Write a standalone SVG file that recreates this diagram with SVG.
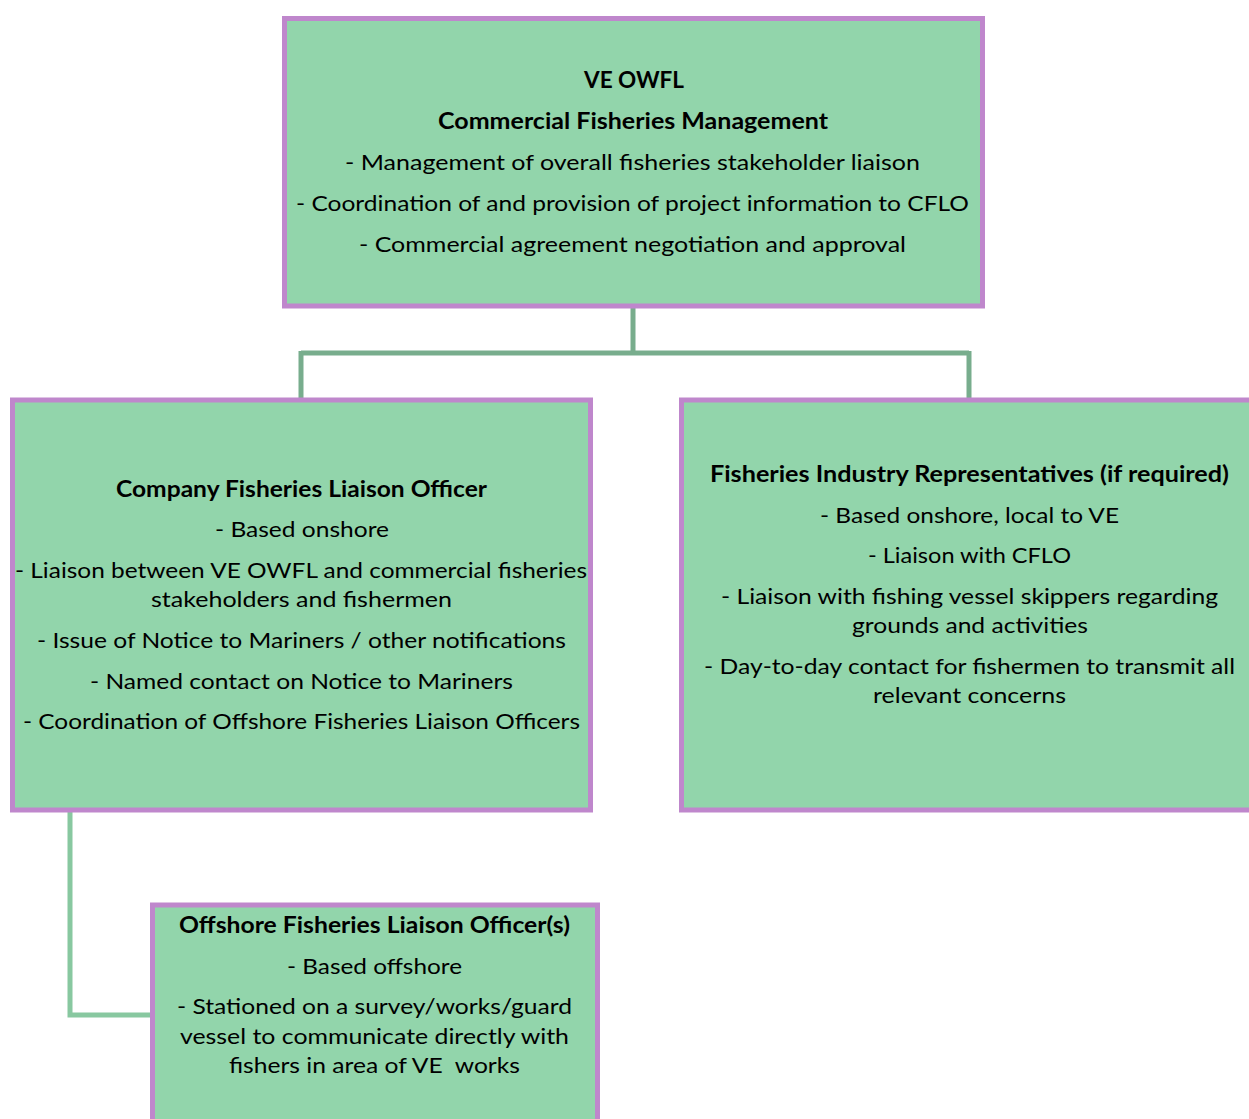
<svg xmlns="http://www.w3.org/2000/svg" width="1249" height="1119" viewBox="0 0 1249 1119">
<style>
.box{fill:#92D5AB;stroke:#BF87CC;stroke-width:5}
.t{font-family:Lato,"Open Sans","Liberation Sans",sans-serif;font-size:22px;fill:#000;text-anchor:middle}
.b{font-weight:bold}
.c1{fill:none;stroke:#78AD8D;stroke-width:5}
.c2{fill:none;stroke:#88C8A0;stroke-width:5}
</style>
<rect width="1249" height="1119" fill="#fff"/>
<g id="connectors">
<path class="c1" d="M633,307 V353 M301,353 H969 M301,351 V400 M969,351 V400"/>
<path class="c2" d="M70,812 V1015 H152"/>
</g>
<g id="node-mgmt">
<rect class="box" x="284.5" y="18.5" width="698" height="287.5"/>
<text class="t b" x="634" y="88" textLength="100" lengthAdjust="spacingAndGlyphs">VE OWFL</text>
<text class="t b" x="633" y="129" textLength="390" lengthAdjust="spacingAndGlyphs">Commercial Fisheries Management</text>
<text class="t" x="632.5" y="170" textLength="575" lengthAdjust="spacingAndGlyphs">- Management of overall fisheries stakeholder liaison</text>
<text class="t" x="632.5" y="211" textLength="673" lengthAdjust="spacingAndGlyphs">- Coordination of and provision of project information to CFLO</text>
<text class="t" x="632.5" y="252" textLength="547" lengthAdjust="spacingAndGlyphs">- Commercial agreement negotiation and approval</text>
</g>
<g id="node-cflo">
<rect class="box" x="12.5" y="400" width="578" height="410"/>
<text class="t b" x="301.5" y="497" textLength="371" lengthAdjust="spacingAndGlyphs">Company Fisheries Liaison Officer</text>
<text class="t" x="302" y="537" textLength="174" lengthAdjust="spacingAndGlyphs">- Based onshore</text>
<text class="t" x="301" y="578" textLength="572" lengthAdjust="spacingAndGlyphs">- Liaison between VE OWFL and commercial fisheries</text>
<text class="t" x="301.5" y="607" textLength="301" lengthAdjust="spacingAndGlyphs">stakeholders and fishermen</text>
<text class="t" x="301.5" y="648" textLength="529" lengthAdjust="spacingAndGlyphs">- Issue of Notice to Mariners / other notifications</text>
<text class="t" x="301.5" y="689" textLength="423" lengthAdjust="spacingAndGlyphs">- Named contact on Notice to Mariners</text>
<text class="t" x="301.5" y="729" textLength="557" lengthAdjust="spacingAndGlyphs">- Coordination of Offshore Fisheries Liaison Officers</text>
</g>
<g id="node-fir">
<rect class="box" x="681.5" y="400" width="600" height="410"/>
<text class="t b" x="969.5" y="482" textLength="519" lengthAdjust="spacingAndGlyphs">Fisheries Industry Representatives (if required)</text>
<text class="t" x="969.5" y="523" textLength="299" lengthAdjust="spacingAndGlyphs">- Based onshore, local to VE</text>
<text class="t" x="969.5" y="563" textLength="203" lengthAdjust="spacingAndGlyphs">- Liaison with CFLO</text>
<text class="t" x="969.5" y="604" textLength="497" lengthAdjust="spacingAndGlyphs">- Liaison with fishing vessel skippers regarding</text>
<text class="t" x="970" y="633" textLength="236" lengthAdjust="spacingAndGlyphs">grounds and activities</text>
<text class="t" x="969.5" y="674" textLength="531" lengthAdjust="spacingAndGlyphs">- Day-to-day contact for fishermen to transmit all</text>
<text class="t" x="969.5" y="703" textLength="193" lengthAdjust="spacingAndGlyphs">relevant concerns</text>
</g>
<g id="node-oflo">
<rect class="box" x="152.5" y="905" width="445" height="260"/>
<text class="t b" x="374.5" y="933" textLength="391" lengthAdjust="spacingAndGlyphs">Offshore Fisheries Liaison Officer(s)</text>
<text class="t" x="374.5" y="974" textLength="175" lengthAdjust="spacingAndGlyphs">- Based offshore</text>
<text class="t" x="374.5" y="1014" textLength="395" lengthAdjust="spacingAndGlyphs">- Stationed on a survey/works/guard</text>
<text class="t" x="374.5" y="1044" textLength="389" lengthAdjust="spacingAndGlyphs">vessel to communicate directly with</text>
<text class="t" x="374.5" y="1073" textLength="291" lengthAdjust="spacingAndGlyphs" xml:space="preserve">fishers in area of VE  works</text>
</g>
</svg>
